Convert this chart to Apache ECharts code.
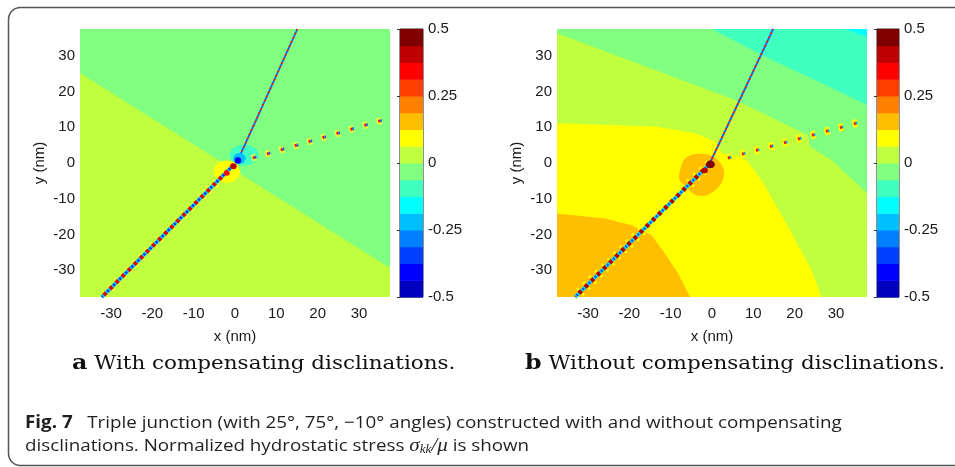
<!DOCTYPE html>
<html><head><meta charset="utf-8">
<script src="https://cdn.jsdelivr.net/npm/echarts@6/dist/echarts.min.js"></script>
<style>html,body{margin:0;padding:0;background:#fff}#c{width:955px;height:467px}</style>
</head><body><div id="c"></div>
<script>
// ---------- data (nm, normalized stress) ----------
const xTicks = [-30, -20, -10, 0, 10, 20, 30];
const yTicks = [-30, -20, -10, 0, 10, 20, 30];
const cbTicks = [-0.5, -0.25, 0, 0.25, 0.5];
const cbEdges = [-0.5,-0.4375,-0.375,-0.3125,-0.25,-0.1875,-0.125,-0.0625,0,0.0625,0.125,0.1875,0.25,0.3125,0.375,0.4375,0.5];
const jet16 = ['#0000BF','#0000FF','#0040FF','#0080FF','#00BFFF','#00FFFF','#40FFBF','#80FF80','#BFFF40','#FFFF00','#FFBF00','#FF8000','#FF4000','#FF0000','#BF0000','#800000'];

// filled contour regions: [stress value, polygon vertices (x nm, y nm)]
const regionsA = [
  [-0.03, [[-37.5,-37.5],[37.5,-37.5],[37.5,37.5],[-37.5,37.5]]],
  [0.03,  [[-37.5,25.2],[37.5,-29.4],[37.5,-37.5],[-37.5,-37.5]]]
];
const regionsB = [
  [0.03,  [[-37.5,-37.5],[37.5,-37.5],[37.5,37.5],[-37.5,37.5]]],
  [-0.03, [[-37.5,37.5],[-37.5,36.3],[5.6,17.6],[23.3,7.8],[23.7,4.6],[29,0.8],[37.5,-8.5],[37.5,37.5]]],
  [-0.09, [[0,37.5],[13.6,29.3],[24.9,23.2],[37.5,16.2],[37.5,37.5]]],
  [-0.15, [[32.2,37.5],[37.5,35.3],[37.5,37.5]]],
  [0.09,  [[-37.5,11.1],[-13.8,10.2],[-4.1,8.3],[0.7,6],[2.5,2.5],[6,2],[8.4,0.8],[12,-4.8],[18.4,-17.8],[24.1,-30],[26.5,-37.5],[-37.5,-37.5]]],
  [0.15,  [[-37.5,-14.1],[-25.9,-15.5],[-19.4,-17.4],[-14.6,-20.2],[-11.4,-25.3],[-8.2,-30.9],[-5.3,-37.5],[-37.5,-37.5]]],
  [0.15,  [[-7.8,-2.5],[-6.4,1.4],[-3,2.6],[0.6,1.6],[2.8,-1.8],[2.3,-5.6],[-0.8,-8.8],[-3.8,-9.0],[-6.1,-6.9],[-7.9,-4.6]]]
];
// local stress blobs near the junction: [stress, cx, cy, rx, ry] (nm)
const blobsA = [
  [-0.09, 2.2, 2.2, 3.5, 2.9],
  [0.09, -2.0, -2.4, 3.2, 3.1]
];
const coresA = [
  [-0.22, 1.1, 1.3, 1.5, 1.5],
  [-0.4, 0.7, 0.7, 0.8, 0.9],
  [0.4, -0.4, -0.9, 0.8, 0.8],
  [0.33, -2.0, -2.9, 0.7, 0.7]
];
const blobsB = [];
const coresB = [
  [0.48, -0.4, -0.4, 1.1, 1.1],
  [0.4, -1.8, -2.1, 0.8, 0.8]
];
// grain boundaries (dislocation walls): start and end points (nm)
const gbUpperA = [[0.7, 0.8], [15.1, 37.5]];
const gbRightA = [[4.0, 1.3], [37.5, 12.6]];
const gbLowerA = [[-0.3, -0.5], [-32.2, -37.5]];
const gbUpperB = [[-0.5, 0.0], [14.8, 37.5]];
const gbRightB = [[3.5, 1.3], [35.4, 11.3]];
const gbLowerB = [[-0.5, -0.2], [-33.1, -37.5]];

// ---------- chart ----------
function colorOf(v) {
  for (let k = 0; k < 16; k++) if (v >= cbEdges[k] && v < cbEdges[k + 1]) return jet16[k];
  return v < 0 ? jet16[0] : jet16[15];
}
const FONT = 'Liberation Sans';
const TXT = '#1a1a1a';

function regionSeries(gi, regions, z) {
  return {
    type: 'custom', xAxisIndex: gi, yAxisIndex: gi, silent: true, clip: true, z: z,
    encode: { x: 0, y: 1 },
    data: regions.map((r, i) => [i, r[0]]),
    renderItem: function (params, api) {
      const r = regions[api.value(0)];
      const pts = r[1].map(p => api.coord(p));
      return { type: 'polygon', shape: { points: pts, smooth: r[1].length > 8 && r[1][0][0] > -20 ? 0.35 : 0 },
        style: { fill: colorOf(r[0]), stroke: null } };
    }
  };
}
function blobSeries(gi, blobs, z) {
  return {
    type: 'custom', xAxisIndex: gi, yAxisIndex: gi, silent: true, clip: true, z: z,
    encode: { x: 0, y: 1 },
    data: blobs.map((b, i) => [i, b[0]]),
    renderItem: function (params, api) {
      const b = blobs[api.value(0)];
      const c = api.coord([b[1], b[2]]);
      const s = api.size([b[3], b[4]]);
      return { type: 'circle', x: c[0], y: c[1], scaleX: s[0], scaleY: s[1],
        shape: { cx: 0, cy: 0, r: 1 }, style: { fill: colorOf(b[0]), stroke: null } };
    }
  };
}
function gbSeries(gi, pts, layers, z) {
  return layers.map((L, j) => ({
    type: 'line', xAxisIndex: gi, yAxisIndex: gi, silent: true, z: z + j * 0.01,
    symbol: 'none', showSymbol: false, animation: false,
    data: pts,
    lineStyle: { color: L.c, width: L.w, type: L.t || 'solid', dashOffset: L.o || 0, opacity: L.op == null ? 1 : L.op, cap: 'butt' }
  }));
}
function cbSeries(gi) {
  return {
    type: 'custom', xAxisIndex: gi, yAxisIndex: gi, silent: true, z: 2,
    encode: { x: 0, y: 1 },
    data: jet16.map((c, k) => [0, cbEdges[k]]),
    renderItem: function (params, api) {
      const k = params.dataIndex;
      const p0 = api.coord([0, cbEdges[k + 1]]);
      const p1 = api.coord([1, cbEdges[k]]);
      return { type: 'rect', shape: { x: p0[0], y: p0[1], width: p1[0] - p0[0], height: p1[1] - p0[1] + 0.5 },
        style: { fill: jet16[k], stroke: null } };
    }
  };
}

const lowerLayersA = [
  { c: '#FFFF20', w: 9, t: [3, 5.6], op: 0.5 },
  { c: '#00C8FF', w: 3.4 },
  { c: '#E00000', w: 4, t: [3.4, 5.2] },
  { c: '#0030FF', w: 2.8, t: [2, 6.6], o: 3.5 }
];
const lowerLayersB = [
  { c: '#FFFF00', w: 10, t: [3, 5.6], op: 0.85 },
  { c: '#00D8FF', w: 3.4 },
  { c: '#B00000', w: 4.4, t: [3.6, 5.0] },
  { c: '#0050FF', w: 2.6, t: [1.8, 6.8], o: 3.4 }
];
const upperLayers = [
  { c: '#1060FF', w: 1.8 },
  { c: '#FF2000', w: 1.8, t: [1.8, 2.8] }
];
const rightLayersA = [
  { c: '#FFFF30', w: 7, t: [5, 9.5], op: 0.75 },
  { c: '#FF1000', w: 3, t: [2, 12.5], o: 13 },
  { c: '#0060FF', w: 3, t: [1.6, 12.9], o: 11 }
];
const rightLayersB = [
  { c: '#FFFF00', w: 8, t: [5.5, 9], op: 0.9 },
  { c: '#FF1000', w: 3, t: [2, 12.5], o: 13 },
  { c: '#00A0FF', w: 3, t: [1.6, 12.9], o: 11 }
];

function plotAxes(gi) {
  return {
    x: { gridIndex: gi, type: 'value', min: -37.5, max: 37.5,
      axisLine: { show: false }, axisTick: { show: false }, splitLine: { show: false },
      axisLabel: { customValues: xTicks, fontFamily: FONT, fontSize: 15, color: TXT, margin: 9 },
      name: 'x (nm)', nameLocation: 'middle', nameGap: 32,
      nameTextStyle: { fontFamily: FONT, fontSize: 15, color: TXT } },
    y: { gridIndex: gi, type: 'value', min: -37.5, max: 37.5,
      axisLine: { show: false }, axisTick: { show: false }, splitLine: { show: false },
      axisLabel: { customValues: yTicks, fontFamily: FONT, fontSize: 15, color: TXT, margin: 5 },
      name: 'y (nm)', nameLocation: 'middle', nameGap: 33,
      nameTextStyle: { fontFamily: FONT, fontSize: 15, color: TXT } }
  };
}
function cbAxes(gi) {
  return {
    x: { gridIndex: gi, type: 'value', min: 0, max: 1, show: false },
    y: { gridIndex: gi, type: 'value', min: -0.5, max: 0.5, position: 'right',
      axisLine: { show: false }, splitLine: { show: false },
      axisTick: { show: true, inside: true, length: 3, customValues: cbTicks, lineStyle: { color: '#333' } },
      axisLabel: { customValues: cbTicks, fontFamily: FONT, fontSize: 15, color: TXT, margin: 5 } }
  };
}
const ax = [plotAxes(0), cbAxes(1), plotAxes(2), cbAxes(3)];

const series = [].concat(
  [regionSeries(0, regionsA, 1), blobSeries(0, blobsA, 2)],
  gbSeries(0, gbLowerA, lowerLayersA, 3),
  gbSeries(0, gbUpperA, upperLayers, 3.5),
  gbSeries(0, gbRightA, rightLayersA, 3.6),
  [blobSeries(0, coresA, 4)],
  [cbSeries(1)],
  [regionSeries(2, regionsB, 1), blobSeries(2, blobsB, 2)],
  gbSeries(2, gbLowerB, lowerLayersB, 3),
  gbSeries(2, gbUpperB, upperLayers, 3.5),
  gbSeries(2, gbRightB, rightLayersB, 3.6),
  [blobSeries(2, coresB, 4)],
  [cbSeries(3)]
);

const CAP_FONT = 'DejaVu Serif';
const FIG_FONT = 'Open Sans';
const chart = echarts.init(document.getElementById('c'), null, { renderer: 'canvas' });
chart.setOption({
  animation: false,
  backgroundColor: '#ffffff',
  grid: [
    { left: 80, top: 29, width: 310, height: 268, show: false },
    { left: 400, top: 29, width: 23, height: 268, show: true, borderColor: '#222', borderWidth: 1, backgroundColor: 'transparent' },
    { left: 557, top: 29, width: 310, height: 268, show: false },
    { left: 877, top: 29, width: 22, height: 268, show: true, borderColor: '#222', borderWidth: 1, backgroundColor: 'transparent' }
  ],
  xAxis: ax.map(a => a.x),
  yAxis: ax.map(a => a.y),
  series: series,
  graphic: [
    { type: 'rect', shape: { x: 8.5, y: 7.5, width: 1000, height: 458, r: 12 }, style: { fill: null, stroke: '#555', lineWidth: 1.5 }, silent: true, z: 100 },
    { type: 'text', x: 72, y: 364, scaleX: 1.13, style: { text: '{b|a} With compensating disclinations.', fontFamily: CAP_FONT, fontSize: 19, fill: '#111', verticalAlign: 'middle',
        rich: { b: { fontFamily: CAP_FONT, fontWeight: 'bold', fontSize: 21, fill: '#111' } } }, z: 100 },
    { type: 'text', x: 525, y: 364, scaleX: 1.13, style: { text: '{b|b} Without compensating disclinations.', fontFamily: CAP_FONT, fontSize: 19, fill: '#111', verticalAlign: 'middle',
        rich: { b: { fontFamily: CAP_FONT, fontWeight: 'bold', fontSize: 21, fill: '#111' } } }, z: 100 },
    { type: 'text', x: 25, y: 423, scaleX: 1.105, style: { text: '{b|Fig. 7}   Triple junction (with 25°, 75°, −10° angles) constructed with and without compensating',
        fontFamily: FIG_FONT, fontSize: 17, fill: '#231f20', verticalAlign: 'middle',
        rich: { b: { fontFamily: FIG_FONT, fontWeight: 'bold', fontSize: 17, fill: '#231f20' } } }, z: 100 },
    { type: 'text', x: 25, y: 446, scaleX: 1.105, style: { text: 'disclinations. Normalized hydrostatic stress {i|σ}{s|kk}{i|/μ} is shown',
        fontFamily: FIG_FONT, fontSize: 17, fill: '#231f20', verticalAlign: 'middle',
        rich: { i: { fontFamily: 'Liberation Serif', fontStyle: 'italic', fontSize: 19, fill: '#231f20' },
                s: { fontFamily: 'Liberation Serif', fontStyle: 'italic', fontSize: 12, fill: '#231f20', padding: [8, 0, 0, 0] } } }, z: 100 }
  ]
});
</script></body></html>
